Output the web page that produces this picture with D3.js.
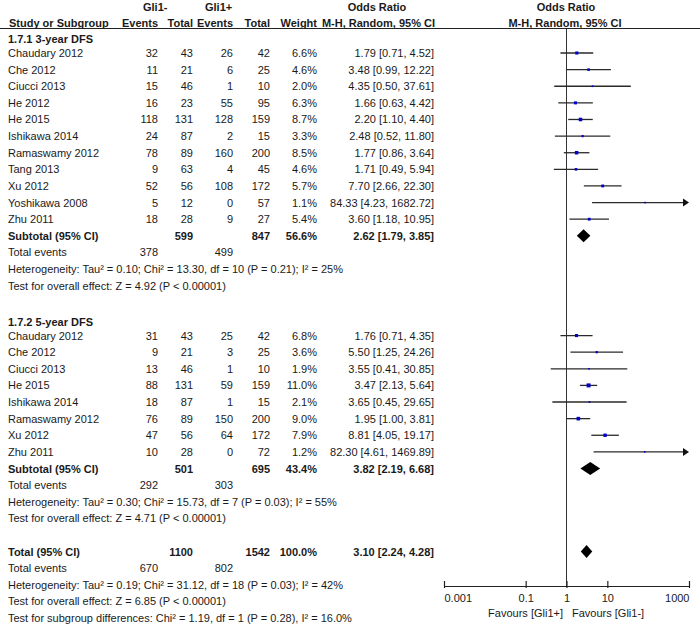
<!DOCTYPE html>
<html><head><meta charset="utf-8">
<script src="https://cdn.jsdelivr.net/npm/d3@7"></script>
<style>
body{margin:0;background:#fff}
svg{display:block}
text{font-family:Arial,"Liberation Sans",sans-serif;font-size:11px;fill:#1a1a1a}
.b{font-weight:bold}
</style></head><body>
<script>
// ---- Data: 1.7.1 3-year DFS ----
const studies1 = ["Chaudary 2012","Che 2012","Ciucci 2013","He 2012","He 2015","Ishikawa 2014","Ramaswamy 2012","Tang 2013","Xu 2012","Yoshikawa 2008","Zhu 2011"];
const negEvents1 = [32,11,15,16,118,24,78,9,52,5,18];
const negTotal1  = [43,21,46,23,131,87,89,63,56,12,28];
const posEvents1 = [26,6,1,55,128,2,160,4,108,0,9];
const posTotal1  = [42,25,10,95,159,15,200,45,172,57,27];
const weight1    = [6.6,4.6,2.0,6.3,8.7,3.3,8.5,4.6,5.7,1.1,5.4];
const or1        = [1.79,3.48,4.35,1.66,2.20,2.48,1.77,1.71,7.70,84.33,3.60];
const lo1        = [0.71,0.99,0.50,0.63,1.10,0.52,0.86,0.49,2.66,4.23,1.18];
const hi1        = [4.52,12.22,37.61,4.42,4.40,11.80,3.64,5.94,22.30,1682.72,10.95];
const subtotal1  = {or:2.62, lo:1.79, hi:3.85, negN:599, posN:847, w:56.6, negE:378, posE:499,
  het:"Heterogeneity: Tau² = 0.10; Chi² = 13.30, df = 10 (P = 0.21); I² = 25%",
  test:"Test for overall effect: Z = 4.92 (P < 0.00001)"};

// ---- Data: 1.7.2 5-year DFS ----
const studies2 = ["Chaudary 2012","Che 2012","Ciucci 2013","He 2015","Ishikawa 2014","Ramaswamy 2012","Xu 2012","Zhu 2011"];
const negEvents2 = [31,9,13,88,18,76,47,10];
const negTotal2  = [43,21,46,131,87,89,56,28];
const posEvents2 = [25,3,1,59,1,150,64,0];
const posTotal2  = [42,25,10,159,15,200,172,72];
const weight2    = [6.8,3.6,1.9,11.0,2.1,9.0,7.9,1.2];
const or2        = [1.76,5.50,3.55,3.47,3.65,1.95,8.81,82.30];
const lo2        = [0.71,1.25,0.41,2.13,0.45,1.00,4.05,4.61];
const hi2        = [4.35,24.26,30.85,5.64,29.65,3.81,19.17,1469.89];
const subtotal2  = {or:3.82, lo:2.19, hi:6.68, negN:501, posN:695, w:43.4, negE:292, posE:303,
  het:"Heterogeneity: Tau² = 0.30; Chi² = 15.73, df = 7 (P = 0.03); I² = 55%",
  test:"Test for overall effect: Z = 4.71 (P < 0.00001)"};

// ---- Overall ----
const overall = {or:3.10, lo:2.24, hi:4.28, negN:1100, posN:1542, w:100.0, negE:670, posE:802,
  het:"Heterogeneity: Tau² = 0.19; Chi² = 31.12, df = 18 (P = 0.03); I² = 42%",
  test:"Test for overall effect: Z = 6.85 (P < 0.00001)",
  sub:"Test for subgroup differences: Chi² = 1.19, df = 1 (P = 0.28), I² = 16.0%"};

const axisTicks = [0.001, 0.1, 1, 10, 1000];
const axisLabels = ["0.001","0.1","1","10","1000"];
const favourLeft = "Favours [Gli1+]";
const favourRight = "Favours [Gli1-]";

// ---- Layout ----
const W = 700, H = 629;
const svg = d3.select("body").append("svg").attr("width", W).attr("height", H);
const x = d3.scaleLog().domain([0.001, 1000]).range([444, 689]);
const row0 = 53, step = 16.62;
const rowY = k => row0 + k * step;
const colX = {name:8, negE:158, negN:193, posE:233, posN:270, w:317, ci:434};
const axisY = 586;

function txt(xp, y, s, anchor, bold){
  svg.append("text").attr("x", xp).attr("y", y + 4).attr("text-anchor", anchor || "start")
    .attr("class", bold ? "b" : null).text(s);
}
const f2 = v => v.toFixed(2);
const ciText = (o,l,h) => `${f2(o)} [${f2(l)}, ${f2(h)}]`;

// headers
txt(143, 7, "Gli1-", "start", true);
txt(205, 7, "Gli1+", "start", true);
txt(377, 7, "Odds Ratio", "middle", true);
txt(566, 7, "Odds Ratio", "middle", true);
txt(9, 23, "Study or Subgroup", "start", true);
txt(colX.negE, 23, "Events", "end", true);
txt(colX.negN, 23, "Total", "end", true);
txt(colX.posE, 23, "Events", "end", true);
txt(colX.posN, 23, "Total", "end", true);
txt(colX.w, 23, "Weight", "end", true);
txt(colX.ci + 1, 23, "M-H, Random, 95% CI", "end", true);
txt(565, 23, "M-H, Random, 95% CI", "middle", true);
svg.append("line").attr("x1", 0).attr("x2", W).attr("y1", 28.5).attr("y2", 28.5)
  .attr("stroke", "#222").attr("stroke-width", 1);

// vertical null line
svg.append("line").attr("x1", x(1)).attr("x2", x(1)).attr("y1", 29).attr("y2", axisY)
  .attr("stroke", "#333").attr("stroke-width", 1);

function studyRow(k, name, ne, nn, pe, pn, w, o, l, h){
  const y = rowY(k);
  txt(colX.name, y, name);
  txt(colX.negE, y, String(ne), "end");
  txt(colX.negN, y, String(nn), "end");
  txt(colX.posE, y, String(pe), "end");
  txt(colX.posN, y, String(pn), "end");
  txt(colX.w, y, w.toFixed(1) + "%", "end");
  txt(colX.ci, y, ciText(o,l,h), "end");
  const dmax = x.domain()[1], dmin = x.domain()[0];
  const x1 = x(Math.max(l, dmin)), x2 = x(Math.min(h, dmax));
  const arrow = h > dmax;
  svg.append("line").attr("x1", x1).attr("x2", arrow ? x2 - 4 : x2).attr("y1", y).attr("y2", y)
    .attr("stroke", "#2a2a2a").attr("stroke-width", 1.3);
  if (arrow) {
    svg.append("path").attr("d", `M${x2},${y} L${x2-6},${y-4} L${x2-6},${y+4} Z`).attr("fill", "#111");
  }
  const side = Math.max(1.6, 1.2 * Math.sqrt(w));
  svg.append("rect").attr("x", x(o) - side/2).attr("y", y - side/2)
    .attr("width", side).attr("height", side).attr("fill", "#0000c8");
}
function diamond(y, o, l, h){
  svg.append("path")
    .attr("d", `M${x(l)},${y} L${x(o)},${y-6.5} L${x(h)},${y} L${x(o)},${y+6.5} Z`)
    .attr("fill", "#000");
}
function subgroup(startK, title, names, ne, nn, pe, pn, w, o, l, h, sub){
  txt(colX.name, rowY(startK - 1) + 3, title, "start", true);
  names.forEach((n, i) => studyRow(startK + i, n, ne[i], nn[i], pe[i], pn[i], w[i], o[i], l[i], h[i]));
  let k = startK + names.length;
  const y = rowY(k);
  txt(colX.name, y, "Subtotal (95% CI)", "start", true);
  txt(colX.negN, y, String(sub.negN), "end", true);
  txt(colX.posN, y, String(sub.posN), "end", true);
  txt(colX.w, y, sub.w.toFixed(1) + "%", "end", true);
  txt(colX.ci, y, ciText(sub.or, sub.lo, sub.hi), "end", true);
  diamond(y, sub.or, sub.lo, sub.hi);
  txt(colX.name, rowY(k+1), "Total events");
  txt(colX.negE, rowY(k+1), String(sub.negE), "end");
  txt(colX.posE, rowY(k+1), String(sub.posE), "end");
  txt(colX.name, rowY(k+2), sub.het);
  txt(colX.name, rowY(k+3), sub.test);
  return k + 5;
}

let next = subgroup(0, "1.7.1 3-year DFS", studies1, negEvents1, negTotal1, posEvents1, posTotal1, weight1, or1, lo1, hi1, subtotal1);
next = subgroup(next + 1, "1.7.2 5-year DFS", studies2, negEvents2, negTotal2, posEvents2, posTotal2, weight2, or2, lo2, hi2, subtotal2);

// overall
const ty = rowY(next);
txt(colX.name, ty, "Total (95% CI)", "start", true);
txt(colX.negN, ty, String(overall.negN), "end", true);
txt(colX.posN, ty, String(overall.posN), "end", true);
txt(colX.w, ty, overall.w.toFixed(1) + "%", "end", true);
txt(colX.ci, ty, ciText(overall.or, overall.lo, overall.hi), "end", true);
diamond(ty, overall.or, overall.lo, overall.hi);
txt(colX.name, rowY(next+1), "Total events");
txt(colX.negE, rowY(next+1), String(overall.negE), "end");
txt(colX.posE, rowY(next+1), String(overall.posE), "end");
txt(colX.name, rowY(next+2), overall.het);
txt(colX.name, rowY(next+3), overall.test);
txt(colX.name, rowY(next+4), overall.sub);

// axis
const ax = d3.axisBottom(x).tickValues(axisTicks)
  .tickFormat((d, i) => axisLabels[i]).tickSizeOuter(0).tickSizeInner(0).tickPadding(8);
const g = svg.append("g").attr("transform", `translate(0,${axisY})`).call(ax);
g.select(".domain").attr("stroke", "#222").attr("stroke-width", 1.2);
g.selectAll(".tick line").attr("y1", -5).attr("y2", 2).attr("stroke", "#222").attr("stroke-width", 1.2);
g.selectAll(".tick text").attr("font-size", 11).attr("font-family", "Arial, 'Liberation Sans', sans-serif").attr("fill", "#333")
  .attr("text-anchor", (d, i) => i === 0 ? "start" : (i === axisTicks.length - 1 ? "end" : "middle"))
  .attr("dx", (d, i) => i === 0 ? "0" : (i === axisTicks.length - 1 ? "0" : "0"));
svg.append("text").attr("x", 563).attr("y", 617).attr("text-anchor", "end").text(favourLeft);
svg.append("text").attr("x", 572).attr("y", 617).attr("text-anchor", "start").text(favourRight);
</script>
</body></html>
